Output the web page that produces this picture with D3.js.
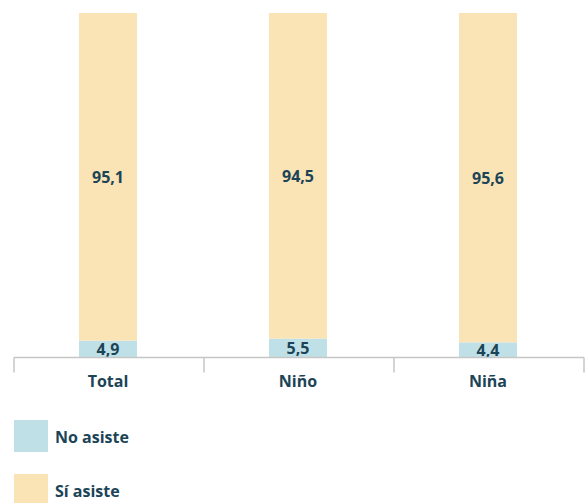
<!DOCTYPE html>
<html>
<head>
<meta charset="utf-8">
<script src="https://cdn.jsdelivr.net/npm/d3@7"></script>
<style>
  html, body { margin: 0; padding: 0; background: #ffffff; }
  svg { display: block; }
  text { font-family: "Open Sans", "Lato", sans-serif; font-weight: 700; fill: #1b4456; }
</style>
</head>
<body>
<div id="chart"></div>
<script>
const categories = ["Total", "Niño", "Niña"];
const noAsiste = [4.9, 5.5, 4.4];
const siAsiste = [95.1, 94.5, 95.6];
const seriesNames = ["No asiste", "Sí asiste"];
const seriesColors = ["#bfe0e6", "#fae3b4"];

const width = 585, height = 503;
const svg = d3.select("#chart").append("svg")
  .attr("width", width).attr("height", height);

const x = d3.scaleBand().domain(categories).range([14, 584]).padding(0);
const y = d3.scaleLinear().domain([0, 100]).range([357.5, 13]);
const barW = 58;

const rows = categories.map((c, i) => ({ cat: c, "No asiste": noAsiste[i], "Sí asiste": siAsiste[i] }));
const stack = d3.stack().keys(seriesNames)(rows);
const fmt = v => d3.format(".1f")(v).replace(".", ",");

const layers = svg.append("g").selectAll("g").data(stack).join("g")
  .attr("fill", (d, i) => seriesColors[i]);

layers.selectAll("rect").data(d => d).join("rect")
  .attr("x", d => x(d.data.cat) + x.bandwidth() / 2 - barW / 2 - 1)
  .attr("width", barW)
  .attr("y", d => y(d[1]))
  .attr("height", d => y(d[0]) - y(d[1]));

const labels = svg.append("g");
stack.forEach(layer => {
  labels.selectAll(null).data(layer).join("text")
    .attr("x", d => x(d.data.cat) + x.bandwidth() / 2 - 1)
    .attr("y", d => (y(d[0]) + y(d[1])) / 2)
    .attr("text-anchor", "middle")
    .attr("dominant-baseline", "central")
    .attr("font-size", 16)
    .text(d => fmt(d[1] - d[0]));
});

// axis with separators at band boundaries
const axisY = 357.5;
svg.append("line")
  .attr("x1", x.range()[0]).attr("x2", x.range()[1])
  .attr("y1", axisY).attr("y2", axisY)
  .attr("stroke", "#c6c6c6").attr("stroke-width", 1.5);
const bounds = categories.map(c => x(c)).concat([x.range()[1]]);
svg.append("g").selectAll("line").data(bounds).join("line")
  .attr("x1", d => d).attr("x2", d => d)
  .attr("y1", axisY).attr("y2", axisY + 15)
  .attr("stroke", "#c6c6c6").attr("stroke-width", 1.5);
svg.append("g").selectAll("text").data(categories).join("text")
  .attr("x", d => x(d) + x.bandwidth() / 2 - 1)
  .attr("y", 387)
  .attr("text-anchor", "middle")
  .attr("font-size", 16)
  .text(d => d);

// legend
const legend = svg.append("g").selectAll("g").data(seriesNames).join("g")
  .attr("transform", (d, i) => `translate(14, ${420 + i * 54})`);
legend.append("rect")
  .attr("width", 34).attr("height", 32)
  .attr("fill", (d, i) => seriesColors[i]);
legend.append("text")
  .attr("x", 41).attr("y", 23)
  .attr("font-size", 16)
  .text(d => d);
</script>
</body>
</html>
